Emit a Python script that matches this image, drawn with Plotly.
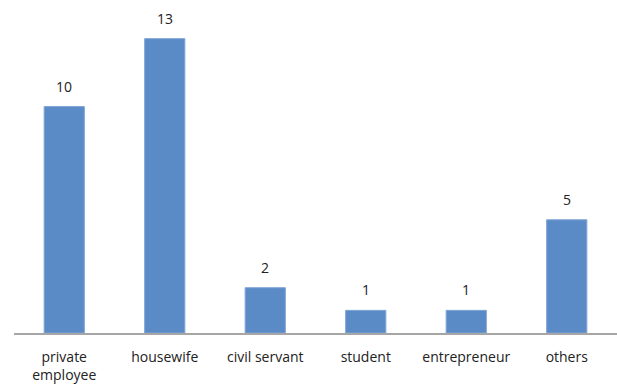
import plotly.graph_objects as go

categories = ["private<br>employee", "housewife", "civil servant", "student", "entrepreneur", "others"]
values = [10, 13, 2, 1, 1, 5]

fig = go.Figure(go.Bar(
    x=categories, y=values,
    marker=dict(color="#5B8BC6", line=dict(color="#7FA5D6", width=1)),
    cliponaxis=False,
))
for c, v in zip(categories, values):
    fig.add_annotation(x=c, y=v, text=str(v), showarrow=False, yanchor="bottom",
                       yshift=9, font=dict(family="Open Sans", size=14, color="#222222"))
fig.update_layout(
    width=617, height=389,
    margin=dict(l=14, r=0, t=16, b=56),
    paper_bgcolor="white", plot_bgcolor="white",
    bargap=0.6, showlegend=False,
    font=dict(family="Open Sans", size=14, color="#222222"),
)
fig.update_xaxes(showline=True, linecolor="#A6A6A6", linewidth=1.5, ticks="",
                 ticklabelstandoff=10,
                 tickfont=dict(family="Open Sans", size=14, color="#222222"))
fig.update_yaxes(range=[0, 14], visible=False)
fig.write_html("out.html")
